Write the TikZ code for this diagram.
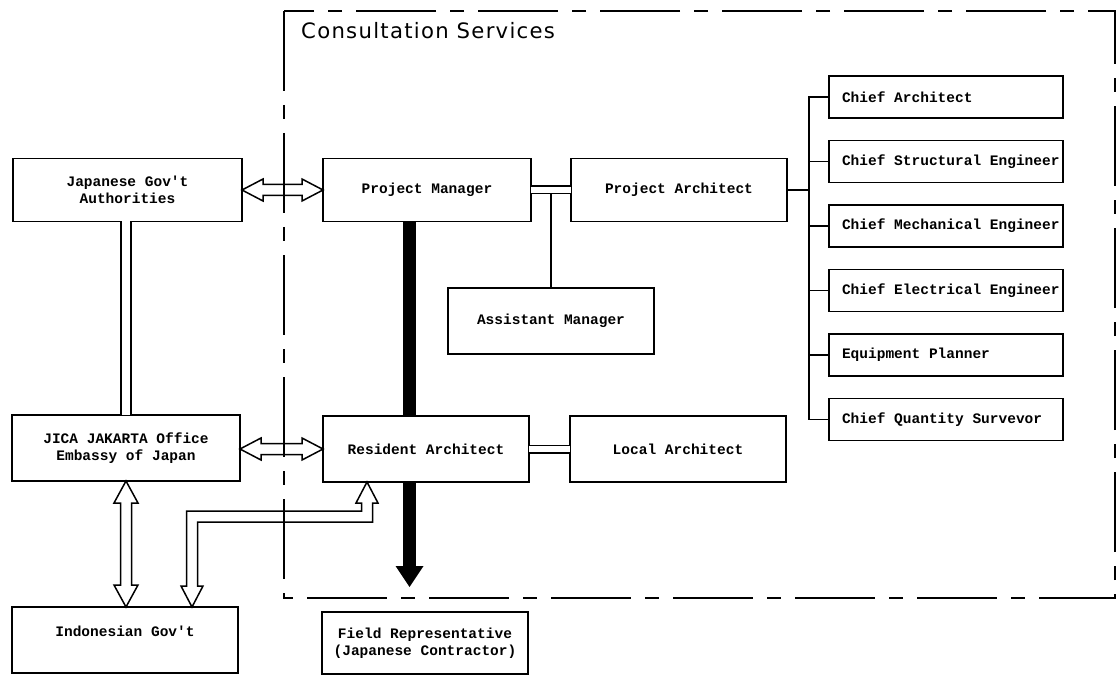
\documentclass[tikz,border=0pt]{standalone}
\usepackage{fontspec}
\usetikzlibrary{calc}
\newfontfamily\dmfont{Liberation Mono}
\newfontfamily\ttlfont{DejaVu Sans}[LetterSpace=6.0]
\newcommand{\chieftext}[1]{\makebox[234pt][l]{\hspace{13pt}#1}}
\tikzset{
  box/.style={draw, line width=1.8pt, inner sep=0pt, outer sep=0pt, align=center,
    font=\dmfont\bfseries\fontsize{14.5}{17}\selectfont},
  chiefbox/.style={box, minimum width=234pt, minimum height=42pt},
  hollow/.style={draw, line width=1.5pt, line join=miter},
  tree/.style={draw, line width=1.6pt},
  dbl/.style={draw, line width=1.5pt, double, double distance=6pt},
  bar/.style={draw, line width=13pt},
  frame/.style={draw, line width=1.5pt, dash pattern=on 80pt off 14pt on 14pt off 14pt},
  ttl/.style={font=\ttlfont\fontsize{21.2}{25}\selectfont, inner sep=0pt}
}
\begin{document}
\begin{tikzpicture}[x=1pt,y=-1pt]
\useasboundingbox (0,0) rectangle (1118,676);

% title
\node[ttl, anchor=base west] (title) at (301,39) {Consultation Services};

% boxes
\node[box, minimum width=229pt, minimum height=63pt] (jp) at (127.5,190) {Japanese Gov't\\Authorities};
\node[box, minimum width=208pt, minimum height=63pt] (pm) at (427,190) {Project Manager};
\node[box, minimum width=216pt, minimum height=63pt] (pa) at (679,190) {Project Architect};
\node[box, minimum width=206pt, minimum height=66pt] (am) at (551,321) {Assistant Manager};
\node[box, minimum width=228pt, minimum height=66pt] (jica) at (126,448) {JICA JAKARTA Office\\Embassy of Japan};
\node[box, minimum width=206pt, minimum height=66pt] (ra) at (426,449) {Resident Architect};
\node[box, minimum width=216pt, minimum height=66pt] (la) at (678,449) {Local Architect};
\node[box, minimum width=226pt, minimum height=66pt] (ig) at (125,640) {Indonesian Gov't\\\mbox{}};
\node[box, minimum width=206pt, minimum height=62pt] (fr) at (425,643) {Field Representative\\(Japanese Contractor)};

\node[chiefbox] (c1) at (946,97) {\chieftext{Chief Architect}};
\node[chiefbox] (c2) at (946,161.5) {\chieftext{Chief Structural Engineer}};
\node[chiefbox] (c3) at (946,226) {\chieftext{Chief Mechanical Engineer}};
\node[chiefbox] (c4) at (946,290.5) {\chieftext{Chief Electrical Engineer}};
\node[chiefbox] (c5) at (946,355) {\chieftext{Equipment Planner}};
\node[chiefbox] (c6) at (946,419.5) {\chieftext{Chief Quantity Survevor}};

% tree from Project Architect
\coordinate (tr) at (809,0);
\draw[tree] (pa.east) -- (pa.east -| tr);
\draw[tree] (c1.west) -- (c1.west -| tr) -- (c6.west -| tr) -- (c6.west);
\foreach \c in {c2,c3,c4,c5} \draw[tree] (\c.west) -- (\c.west -| tr);

% assistant manager link and double links
\draw[tree] (am.north) -- (am.north |- pm.east);
\draw[dbl] (pm.east) -- (pa.west);
\draw[dbl] (ra.east) -- (la.west);
\draw[dbl, double distance=8.5pt] (jica.north |- jp.south) -- (jica.north);

% thick bar to field representative
\coordinate (bt) at ($(ra.south)+(-16.5,105)$);
\draw[bar] ($(pm.south)+(-17.5,0)$) -- ($(ra.north)+(-16.5,0)$);
\draw[bar] ($(ra.south)+(-16.5,0)$) -- ($(bt)+(0,-20)$);
\fill ($(bt)+(-14,-21)$) -- ($(bt)+(14,-21)$) -- (bt) -- cycle;

% hollow double arrows
\draw[hollow] (jp.east) -- ++(21,-11) -- ++(0,5.5) -- ($(pm.west)+(-21,-5.5)$) -- ++(0,-5.5) -- (pm.west)
  -- ++(-21,11) -- ++(0,-5.5) -- ($(jp.east)+(21,5.5)$) -- ++(0,5.5) -- cycle;
\draw[hollow] (jica.east |- ra.west) -- ++(21,-11) -- ++(0,5.5) -- ($(ra.west)+(-21,-5.5)$) -- ++(0,-5.5) -- (ra.west)
  -- ++(-21,11) -- ++(0,-5.5) -- ($(jica.east |- ra.west)+(21,5.5)$) -- ++(0,5.5) -- cycle;
\draw[hollow] (jica.south) -- ++(12,22) -- ++(-6.5,0) -- ($(ig.north -| jica.south)+(5.5,-22)$) -- ++(6.5,0)
  -- (ig.north -| jica.south) -- ++(-12,-22) -- ++(6.5,0) -- ($(jica.south)+(-5.5,22)$) -- ++(-6.5,0) -- cycle;

% L-shaped arrow between Resident Architect and Indonesian Gov't
\coordinate (la1) at ($(ra.south)+(-59,0)$);
\coordinate (lb1) at ($(ig.north)+(67,0)$);
\draw[hollow] (la1) -- ++(11,21) -- ++(-5.5,0) -- ($(la1)+(5.5,40)$) -- ($(lb1 |- la1)+(5.5,40)$)
  -- ($(lb1)+(5.5,-21)$) -- ++(5.5,0) -- (lb1) -- ++(-11,-21) -- ++(5.5,0)
  -- ($(lb1 |- la1)+(-5.5,29)$) -- ($(la1)+(-5.5,29)$) -- ($(la1)+(-5.5,21)$) -- ++(-5.5,0) -- cycle;

% dashed frame
\coordinate (f1) at (284,11);
\coordinate (f2) at (1115,598);
\draw[frame] (f1) rectangle (f2);
\end{tikzpicture}
\end{document}
